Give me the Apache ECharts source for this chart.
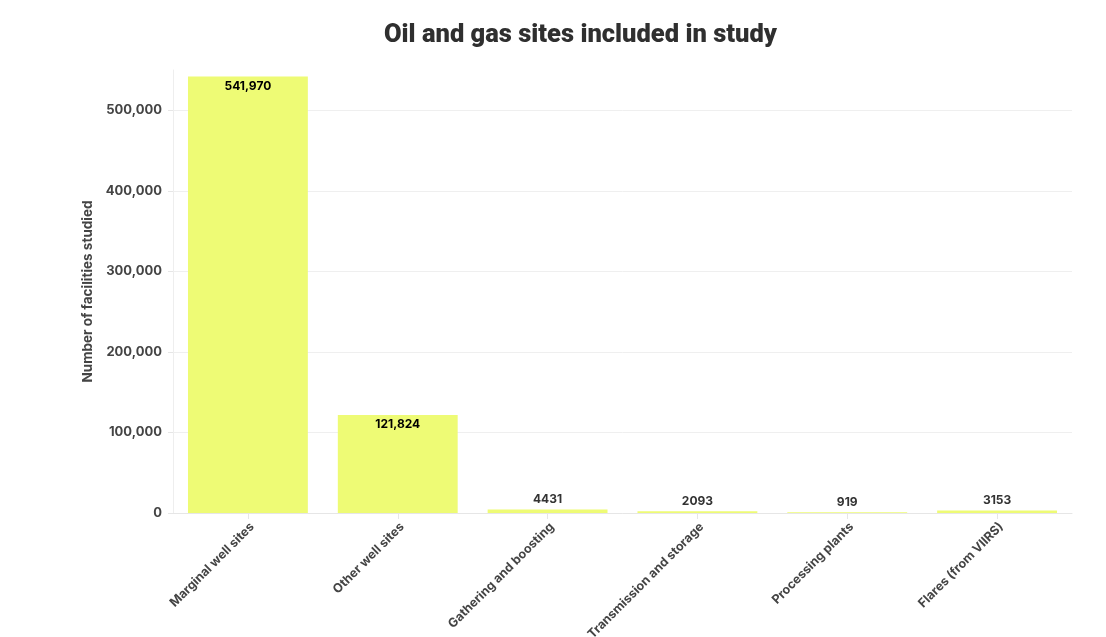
<!DOCTYPE html>
<html><head><meta charset="utf-8">
<script src="https://cdn.jsdelivr.net/npm/echarts@6/dist/echarts.min.js"></script>
<style>html,body{margin:0;padding:0;background:#fff}#c{width:1106px;height:637px}</style>
</head><body><div id="c"></div>
<script>
const categories = ["Marginal well sites","Other well sites","Gathering and boosting","Transmission and storage","Processing plants","Flares (from VIIRS)"];
const values = [541970,121824,4431,2093,919,3153];
const yTicks = [0,100000,200000,300000,400000,500000];
const title = "Oil and gas sites included in study";
const yName = "Number of facilities studied";

const F = 'Inter';
function fmt(v){ return v >= 10000 ? v.toLocaleString('en-US') : String(v); }
const data = values.map(v => {
  const inside = v > 50000;
  return {
    value: v,
    label: inside ? {position:'insideTop', distance:4, color:'#000'} : {position:'top', distance:4, color:'#333'}
  };
});
const chart = echarts.init(document.getElementById('c'), null, {renderer:'canvas'});
chart.setOption({
  animation:false,
  title:{text:title,left:379,top:18,textStyle:{fontFamily:'Roboto',fontWeight:900,fontSize:25.5,color:'#2f2f2f'}},
  grid:{left:173,right:34,top:70,bottom:124,containLabel:false,outerBoundsMode:'none'},
  xAxis:{type:'category',data:categories,
    axisLine:{lineStyle:{color:'#e6e6e6'}},
    axisTick:{show:true,alignWithLabel:true,length:6,lineStyle:{color:'#e6e6e6'}},
    axisLabel:{rotate:45,interval:0,margin:16,fontFamily:F,fontWeight:700,fontSize:12.5,color:'#444',padding:[0,-6,0,0]}},
  yAxis:{type:'value',min:0,max:550000,interval:100000,
    name:yName,nameLocation:'middle',nameGap:73,nameTextStyle:{fontFamily:F,fontWeight:700,fontSize:13.5,color:'#444'},
    axisLine:{show:true,lineStyle:{color:'#eeeeee'}},
    axisTick:{show:true,length:5,lineStyle:{color:'#e6e6e6'}},
    axisLabel:{showMaxLabel:false,margin:11,fontFamily:F,fontWeight:700,fontSize:13,color:'#444',
      formatter:v=>yTicks.includes(v)?v.toLocaleString('en-US'):''},
    splitLine:{show:true,showMaxLine:false,lineStyle:{color:'#efefef'}}},
  series:[{type:'bar',data:data,barCategoryGap:'20%',
    itemStyle:{color:'#eefb75'},
    label:{show:true,fontFamily:F,fontWeight:700,fontSize:12,formatter:p=>fmt(p.value)}}]
});
</script></body></html>
